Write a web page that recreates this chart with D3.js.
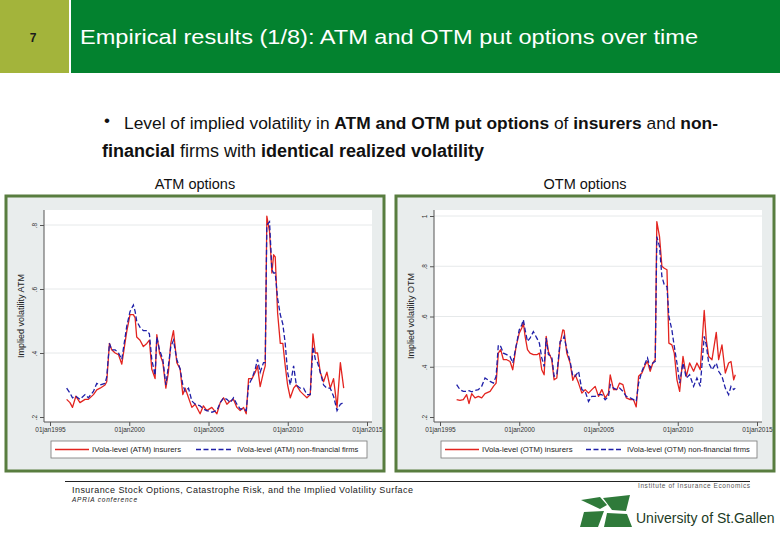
<!DOCTYPE html>
<html>
<head>
<meta charset="utf-8">
<script src="https://cdn.jsdelivr.net/npm/d3@7"></script>
<style>
html,body{margin:0;padding:0;background:#fff;}
svg{display:block;font-family:"Liberation Sans",Arial,sans-serif;}
</style>
</head>
<body>
<svg id="c" width="780" height="540"></svg>
<script>
// ---------------- DATA ----------------
const xTickYears = [1995, 2000, 2005, 2010, 2015];
const xTickLabels = ["01jan1995", "01jan2000", "01jan2005", "01jan2010", "01jan2015"];
const atmYTicks = [0.2, 0.4, 0.6, 0.8];
const atmYTickLabels = [".2", ".4", ".6", ".8"];
const otmYTicks = [0.2, 0.4, 0.6, 0.8, 1.0];
const otmYTickLabels = [".2", ".4", ".6", ".8", "1"];

// ATM options (decimal years)
const atmDates = [1996.05,1996.26,1996.42,1996.63,1996.89,1997.21,1997.42,1997.74,1997.95,1998.16,1998.47,1998.58,1998.75,1998.89,1999.11,1999.32,1999.53,1999.84,2000.05,2000.26,2000.37,2000.47,2000.68,2000.89,2001.11,2001.27,2001.42,2001.63,2001.74,2001.91,2002.12,2002.31,2002.47,2002.62,2002.79,2003.00,2003.21,2003.38,2003.53,2003.74,2003.95,2004.16,2004.47,2004.68,2004.89,2005.21,2005.53,2005.74,2005.95,2006.16,2006.37,2006.58,2006.79,2007.00,2007.21,2007.38,2007.53,2007.74,2007.95,2008.09,2008.26,2008.47,2008.58,2008.68,2008.85,2009.00,2009.11,2009.21,2009.36,2009.53,2009.69,2009.84,2009.99,2010.16,2010.37,2010.54,2010.79,2011.00,2011.21,2011.42,2011.59,2011.74,2011.88,2012.05,2012.26,2012.47,2012.68,2012.89,2013.11,2013.32,2013.53];
const atmInsurers = [.255,.245,.23,.265,.245,.255,.255,.27,.285,.29,.30,.31,.43,.41,.40,.395,.365,.467,.52,.52,.51,.45,.44,.42,.43,.44,.35,.32,.457,.40,.37,.29,.34,.43,.47,.37,.35,.27,.29,.26,.23,.24,.21,.235,.22,.23,.21,.245,.26,.24,.25,.255,.23,.22,.23,.21,.32,.32,.34,.36,.295,.34,.36,.828,.78,.65,.707,.70,.525,.43,.43,.36,.30,.26,.29,.30,.28,.27,.26,.27,.46,.40,.40,.34,.31,.34,.29,.32,.23,.37,.29];
const atmNonFin = [.29,.275,.26,.265,.255,.27,.26,.28,.305,.30,.305,.325,.43,.41,.41,.40,.38,.483,.53,.55,.53,.50,.48,.47,.47,.46,.38,.33,.45,.41,.38,.30,.36,.42,.44,.38,.35,.30,.28,.29,.25,.24,.235,.225,.22,.215,.22,.245,.26,.255,.245,.26,.24,.225,.225,.22,.30,.32,.35,.38,.34,.37,.37,.80,.81,.66,.65,.65,.57,.52,.49,.43,.34,.30,.36,.30,.29,.29,.27,.27,.42,.38,.37,.34,.30,.29,.29,.265,.22,.24,.245];

// OTM options (decimal years)
const otmDates = [1996.05,1996.26,1996.47,1996.68,1996.83,1997.00,1997.21,1997.42,1997.63,1997.84,1998.16,1998.37,1998.54,1998.68,1998.83,1999.00,1999.21,1999.42,1999.59,1999.80,2000.00,2000.16,2000.26,2000.37,2000.52,2000.68,2000.89,2001.11,2001.27,2001.42,2001.57,2001.70,2001.84,2002.05,2002.20,2002.37,2002.58,2002.75,2002.83,2003.00,2003.21,2003.38,2003.53,2003.74,2003.95,2004.16,2004.37,2004.58,2004.79,2005.00,2005.21,2005.42,2005.63,2005.74,2005.95,2006.16,2006.33,2006.54,2006.75,2007.00,2007.21,2007.38,2007.53,2007.74,2007.95,2008.09,2008.26,2008.43,2008.58,2008.68,2008.85,2009.00,2009.15,2009.32,2009.44,2009.63,2009.78,2009.95,2010.12,2010.33,2010.54,2010.75,2011.00,2011.21,2011.42,2011.67,2011.80,2011.95,2012.16,2012.43,2012.58,2012.79,2013.00,2013.21,2013.36,2013.53,2013.63];
const otmInsurers = [.269,.266,.269,.289,.253,.293,.276,.282,.276,.293,.302,.322,.335,.454,.468,.428,.428,.421,.388,.481,.534,.554,.574,.521,.468,.454,.448,.448,.454,.388,.368,.521,.461,.428,.348,.355,.494,.547,.544,.454,.415,.346,.368,.335,.295,.309,.295,.309,.322,.282,.309,.276,.295,.368,.309,.309,.335,.329,.276,.269,.269,.240,.362,.375,.408,.421,.382,.415,.428,.978,.918,.80,.792,.786,.494,.487,.454,.348,.302,.441,.362,.415,.382,.415,.388,.624,.507,.441,.428,.537,.428,.487,.375,.415,.421,.348,.368];
const otmNonFin = [.329,.309,.302,.302,.305,.30,.306,.309,.322,.355,.342,.335,.362,.487,.481,.454,.448,.441,.415,.481,.547,.567,.587,.547,.501,.514,.54,.514,.494,.435,.401,.514,.448,.441,.362,.368,.501,.507,.521,.468,.421,.362,.362,.382,.309,.302,.262,.282,.282,.289,.289,.269,.282,.329,.315,.309,.315,.302,.282,.276,.269,.262,.335,.382,.415,.435,.395,.415,.421,.918,.878,.759,.726,.719,.60,.547,.481,.415,.335,.415,.355,.368,.322,.355,.322,.521,.487,.415,.388,.415,.382,.362,.315,.289,.322,.309,.315];

// ---------------- DRAW ----------------
const svg = d3.select("#c");
const FONT = "'Liberation Sans', Arial, sans-serif";

// header
svg.append("rect").attr("x",0).attr("y",0).attr("width",69).attr("height",73).attr("fill","#a3b43b");
svg.append("rect").attr("x",71).attr("y",0).attr("width",709).attr("height",73).attr("fill","#03822f");
svg.append("text").attr("x",33).attr("y",42).attr("text-anchor","middle").attr("font-size",12).attr("font-weight","bold").attr("fill","#1b1b1b").text("7");
svg.append("text").attr("x",80).attr("y",44).attr("font-size",21).attr("fill","#fff")
  .attr("textLength",618).attr("lengthAdjust","spacingAndGlyphs")
  .text("Empirical results (1/8): ATM and OTM put options over time");

// bullet text
svg.append("text").attr("x",104).attr("y",126).attr("font-size",17).attr("fill","#111").text("•");
const l1 = svg.append("text").attr("x",124).attr("y",129).attr("font-size",17.2).attr("fill","#111")
  .attr("textLength",594).attr("lengthAdjust","spacingAndGlyphs");
[["Level of implied volatility in ",false],["ATM and OTM put options",true],[" of ",false],["insurers",true],[" and ",false],["non-",true]]
  .forEach(([t,b]) => l1.append("tspan").attr("font-weight", b ? "bold" : "normal").text(t));
const l2 = svg.append("text").attr("x",102).attr("y",157).attr("font-size",17.5).attr("fill","#111")
  .attr("textLength",382).attr("lengthAdjust","spacingAndGlyphs");
[["financial",true],[" firms with ",false],["identical realized volatility",true]]
  .forEach(([t,b]) => l2.append("tspan").attr("font-weight", b ? "bold" : "normal").text(t));

svg.append("text").attr("x",195).attr("y",189).attr("text-anchor","middle").attr("font-size",14.5).attr("fill","#111").text("ATM options");
svg.append("text").attr("x",585).attr("y",189).attr("text-anchor","middle").attr("font-size",14.5).attr("fill","#111").text("OTM options");

function panel(ox, dates, ins, non, yTicks, yLabels, yDomainTop, yTopPx, yTitle, legIns, legNon) {
  const g = svg.append("g").attr("transform", `translate(${ox},0)`);
  g.append("rect").attr("x",6).attr("y",196).attr("width",378).attr("height",275)
    .attr("fill","#e9eded").attr("stroke","#587d3f").attr("stroke-width",3);
  g.append("rect").attr("x",44).attr("y",210).attr("width",328).attr("height",212).attr("fill","#fff");

  const x = d3.scaleLinear().domain([1995, 2015]).range([50, 367]);
  const y = d3.scaleLinear().domain([0.2, yDomainTop]).range([417, yTopPx]);

  // grid
  g.append("g").selectAll("line").data(yTicks.filter(v => v > 0.2)).join("line")
    .attr("x1",44).attr("x2",372).attr("y1",d=>y(d)).attr("y2",d=>y(d))
    .attr("stroke","#e6e9ea").attr("stroke-width",1);

  // axes
  const yAxis = d3.axisLeft(y).tickValues(yTicks).tickSize(4).tickFormat((d,i)=>yLabels[i]);
  const ya = g.append("g").attr("transform","translate(44,0)").call(yAxis);
  ya.select(".domain").attr("d", `M0,210V422`);
  ya.selectAll(".tick text").attr("x",0).attr("y",-7).attr("dy",0).attr("transform","rotate(-90)")
    .attr("text-anchor","middle").attr("font-size",6.5).attr("fill","#333").attr("font-family",FONT);
  ya.selectAll("line,path").attr("stroke","#555");

  const xAxis = d3.axisBottom(x).tickValues(xTickYears).tickSize(4).tickFormat((d,i)=>xTickLabels[i]);
  const xa = g.append("g").attr("transform","translate(0,422)").call(xAxis);
  xa.select(".domain").attr("d","M44,0H372");
  xa.selectAll("text").attr("font-size",6.5).attr("fill","#333").attr("font-family",FONT).attr("y",5);
  xa.selectAll("line,path").attr("stroke","#555");

  g.append("text").attr("transform",`translate(24,316) rotate(-90)`).attr("text-anchor","middle")
    .attr("font-size",9).attr("fill","#222").text(yTitle);

  const line = d3.line().x(d=>x(d[0])).y(d=>y(d[1]));
  g.append("path").datum(dates.map((d,i)=>[d, ins[i]])).attr("d", line)
    .attr("fill","none").attr("stroke","#e3241f").attr("stroke-width",1.3).attr("stroke-linejoin","round");
  g.append("path").datum(dates.map((d,i)=>[d, non[i]])).attr("d", line)
    .attr("fill","none").attr("stroke","#1f1fa8").attr("stroke-width",1.3).attr("stroke-dasharray","5,2.5");

  // legend
  g.append("rect").attr("x",51).attr("y",441).attr("width",316).attr("height",17).attr("fill","#fff").attr("stroke","#777").attr("stroke-width",0.8);
  g.append("line").attr("x1",55).attr("x2",89).attr("y1",449.5).attr("y2",449.5).attr("stroke","#e3241f").attr("stroke-width",1.3);
  g.append("text").attr("x",92).attr("y",452).attr("font-size",7.8).attr("fill","#222").text(legIns);
  g.append("line").attr("x1",196).attr("x2",233).attr("y1",449.5).attr("y2",449.5).attr("stroke","#1f1fa8").attr("stroke-width",1.3).attr("stroke-dasharray","5,2.5");
  g.append("text").attr("x",237).attr("y",452).attr("font-size",7.6).attr("fill","#222").text(legNon);
}

panel(0, atmDates, atmInsurers, atmNonFin, atmYTicks, atmYTickLabels, 0.8, 225, "Implied volatility ATM",
  "IVola-level (ATM) insurers", "IVola-level (ATM) non-financial firms");
panel(390, otmDates, otmInsurers, otmNonFin, otmYTicks, otmYTickLabels, 1.0, 216, "Implied volatility OTM",
  "IVola-level (OTM) insurers", "IVola-level (OTM) non-financial firms");

// footer
svg.append("line").attr("x1",65).attr("x2",750).attr("y1",481.5).attr("y2",481.5).attr("stroke","#222").attr("stroke-width",1);
svg.append("text").attr("x",72).attr("y",493).attr("font-size",9).attr("fill","#222")
  .attr("textLength",341).attr("lengthAdjust","spacing")
  .text("Insurance Stock Options, Catastrophe Risk, and the Implied Volatility Surface");
svg.append("text").attr("x",72).attr("y",502).attr("font-size",6.5).attr("font-style","italic").attr("fill","#222")
  .attr("textLength",65).text("APRIA conference");
svg.append("text").attr("x",638).attr("y",488).attr("font-size",6.5).attr("fill","#555")
  .attr("textLength",112).text("Institute of Insurance Economics");
svg.append("text").attr("x",636).attr("y",523).attr("font-size",14).attr("fill","#1d3b25").text("University of St.Gallen");
// logo shape
const logo = svg.append("g").attr("fill","#2f7a3a");
logo.append("path").attr("d","M581,500 L600,497 L607,505 L600,509 Z");
logo.append("path").attr("d","M603,498 L630,495 L626,511 L612,510 Z");
logo.append("path").attr("d","M584,512 L604,511 L598,527 L580,527 Z");
logo.append("path").attr("d","M607,513 L627,514 L632,527 L604,527 Z");
</script>
</body>
</html>
